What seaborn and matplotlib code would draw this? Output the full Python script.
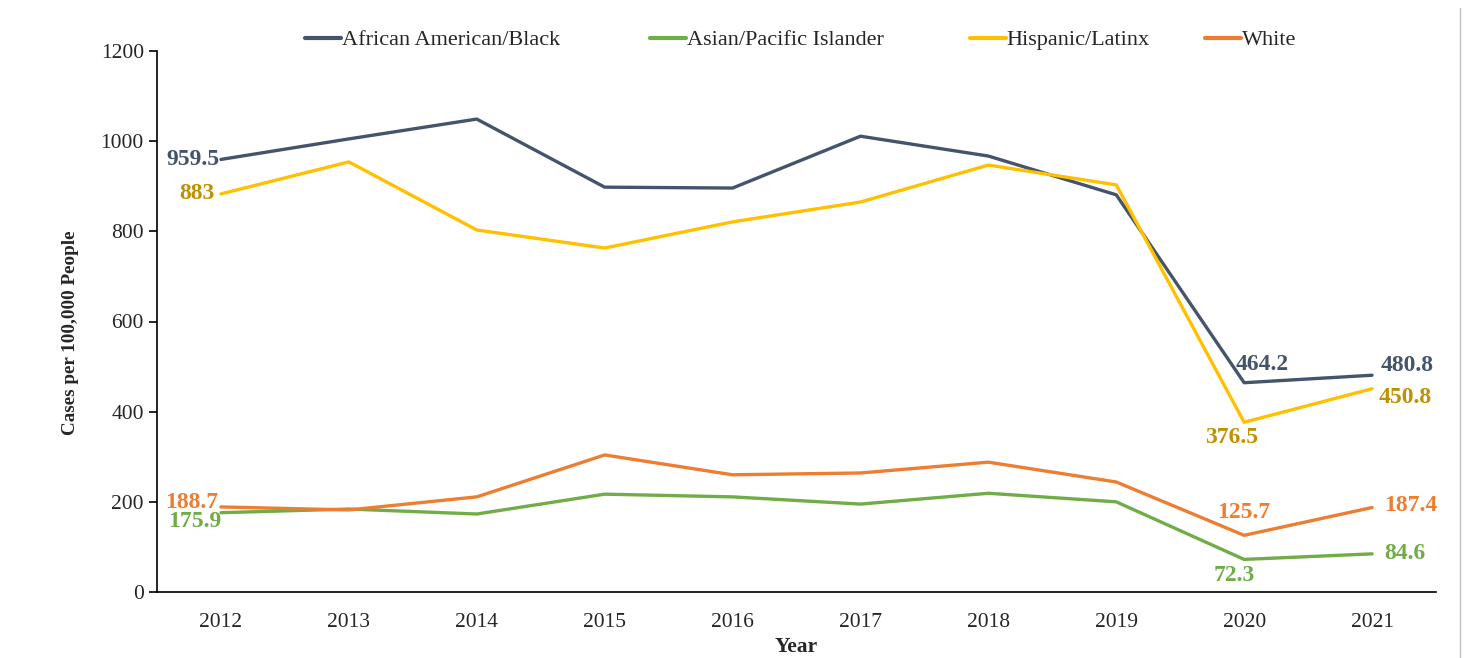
import numpy as np
import pandas as pd
import matplotlib
matplotlib.use("Agg")
import matplotlib.pyplot as plt
import seaborn as sns

years = [2012, 2013, 2014, 2015, 2016, 2017, 2018, 2019, 2020, 2021]
black = [959.5, 1005, 1049, 898, 896, 1011, 967, 881, 464.2, 480.8]
asian = [175.9, 184, 173, 217, 211, 195, 219, 200, 72.3, 84.6]
hispanic = [883, 954, 803, 763, 821, 865, 947, 903, 376.5, 450.8]
white = [188.7, 182, 211, 304, 260, 264, 288, 244, 125.7, 187.4]

groups = ["African American/Black", "Asian/Pacific Islander", "Hispanic/Latinx", "White"]
colors = ["#44546A", "#70AD47", "#FFC000", "#ED7D31"]
label_colors = ["#44546A", "#70AD47", "#BF9000", "#ED7D31"]

df = pd.DataFrame({
    "Year": years * 4,
    "Rate": black + asian + hispanic + white,
    "Group": sum([[g] * len(years) for g in groups], []),
})

sns.set_style("white")
plt.rcParams["font.family"] = ["Liberation Serif", "DejaVu Serif"]

W, H = 1483, 658
fig = plt.figure(figsize=(W / 100, H / 100), dpi=100)
ax = fig.add_axes([157 / W, 1 - 592 / H, (1436 - 157) / W, (592 - 51) / H])

sns.lineplot(data=df, x="Year", y="Rate", hue="Group", hue_order=groups,
             palette=colors, linewidth=2.4, ax=ax, legend=False)

# axes styling (Excel-like category axis)
ax.set_xlim(years[0] - 0.5, years[-1] + 0.5)
ax.set_ylim(0, 1200)
ax.set_yticks(np.arange(0, 1201, 200))
ax.set_xticks(np.arange(years[0] - 0.5, years[-1] + 1, 1))
ax.set_xticklabels([])
ax.set_xticks(years, minor=True)
ax.set_xticklabels([str(y) for y in years], minor=True)
ax.tick_params(axis="x", which="major", direction="out", length=7, width=1.2, color="black")
ax.tick_params(axis="x", which="minor", length=0, pad=15, labelsize=15.5)
ax.tick_params(axis="y", direction="out", length=6, width=1.2, color="black", labelsize=15.5, left=True)
for s in ["top", "right"]:
    ax.spines[s].set_visible(False)
for s in ["left", "bottom"]:
    ax.spines[s].set_color("black")
    ax.spines[s].set_linewidth(1.2)
ax.set_xlabel("Year", fontsize=15.5, fontweight="bold", labelpad=4)
ax.set_ylabel("Cases per 100,000 People", fontsize=13.8, fontweight="bold")
ax.yaxis.set_label_coords(-0.061, 0.48)

# legend on top: one entry per slot, like the source layout
leg_x = [305, 650, 970, 1205]
for g, c, lx in zip(groups, colors, leg_x):
    h = plt.Line2D([], [], color=c, linewidth=3)
    fig.legend([h], [g], loc="center left", bbox_to_anchor=(lx / W, 1 - 40 / H),
               frameon=False, fontsize=16, handlelength=1.6, handletextpad=0.05,
               borderaxespad=0, borderpad=0)

# data labels (offsets in points from the data point)
series = [black, asian, hispanic, white]
first_off = [(-1, 0), (0, -6.5), (-5, 0), (-2, 3.5)]
mid_off = [(13, 13), (-7, -11.5), (-9, -11), (0, 16.5)]
last_off = [(6, 7), (9, 0), (5, -6), (9, 1.5)]
for vals, c, fo, mo, lo in zip(series, label_colors, first_off, mid_off, last_off):
    ax.annotate(f"{vals[0]:g}", (years[0], vals[0]), xytext=fo, textcoords="offset points",
                ha="right", va="center", fontsize=17, fontweight="bold", color=c)
    ax.annotate(f"{vals[8]:g}", (years[8], vals[8]), xytext=mo, textcoords="offset points",
                ha="center", va="center", fontsize=17, fontweight="bold", color=c)
    ax.annotate(f"{vals[9]:g}", (years[9], vals[9]), xytext=lo, textcoords="offset points",
                ha="left", va="center", fontsize=17, fontweight="bold", color=c)

# thin chart border on the right like the source
fig.add_artist(plt.Line2D([1460 / W, 1460 / W], [0.0, 1 - 8 / H], color="#BFBFBF", linewidth=1,
                          transform=fig.transFigure))

fig.savefig("out.png", dpi=100)
